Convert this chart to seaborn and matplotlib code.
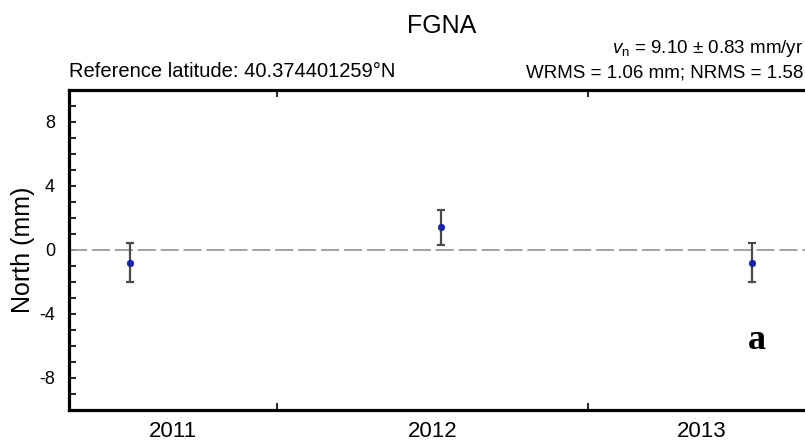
import matplotlib
matplotlib.use("Agg")
import matplotlib.pyplot as plt
import seaborn as sns
import pandas as pd

# GPS north component, one campaign solution per year
station = "FGNA"
epochs = [2011.527, 2012.526, 2013.527]        # decimal year
north_mm = [-0.79, 1.42, -0.79]                # north offset (mm)
sigma_mm = [1.20, 1.10, 1.22]                  # 1-sigma uncertainty (mm)
year_labels = ["2011", "2012", "2013"]
year_bounds = [2012.0, 2013.0]
y_ticks = [-8, -4, 0, 4, 8]

velocity_text = r"$v_{\mathrm{n}}$ = 9.10 ± 0.83 mm/yr"
stats_text = "WRMS = 1.06 mm; NRMS = 1.58"
ref_text = "Reference latitude: 40.374401259°N"
panel_letter = "a"

sns.set_style("white")
plt.rcParams["font.family"] = ["Liberation Sans", "DejaVu Sans"]
plt.rcParams["mathtext.fontset"] = "custom"
plt.rcParams["mathtext.rm"] = "Liberation Sans"
plt.rcParams["mathtext.it"] = "Liberation Sans:italic"
plt.rcParams["lines.scale_dashes"] = False
for key in ["text.color", "axes.labelcolor", "xtick.color", "ytick.color"]:
    plt.rcParams[key] = "black"

W, H = 805, 441
fig = plt.figure(figsize=(W / 100, H / 100), dpi=100)

x0, x1 = 69, 816
y0, y1 = 90, 410
ax = fig.add_axes([x0 / W, 1 - y1 / H, (x1 - x0) / W, (y1 - y0) / H])

xmin, xmax = 2011.331, 2013.733
ax.set_xlim(xmin, xmax)
ax.set_ylim(-10, 10)

df = pd.DataFrame({"epoch": epochs, "north": north_mm, "sigma": sigma_mm})

ax.axhline(0, color="#9a9a9a", lw=1.3, dashes=(13, 3.5), zorder=1)
ax.errorbar(df["epoch"], df["north"], yerr=df["sigma"], fmt="none",
            ecolor="#4a4a4a", elinewidth=1.6, capsize=3, capthick=1.6, zorder=2)
sns.scatterplot(data=df, x="epoch", y="north", ax=ax, color="#1c22a8",
                s=22, edgecolor="#1c22a8", linewidth=0.5, zorder=3, legend=False)

# frame
for side in ["left", "bottom", "top", "right"]:
    ax.spines[side].set_linewidth(2.3)
    ax.spines[side].set_color("black")

# y axis
ax.set_yticks(y_ticks)
ax.set_yticklabels([str(v) for v in y_ticks])
ax.set_yticks(range(-9, 10), minor=True)
ax.tick_params(axis="y", which="both", direction="in", length=5, width=1.2,
               labelsize=13, pad=10, left=True, right=False)
ax.set_ylabel("North (mm)", fontsize=18, labelpad=3)

# x axis: ticks at year boundaries, labels centred on each visible year
ax.set_xticks(year_bounds)
ax.set_xticklabels([])
ax.tick_params(axis="x", which="major", direction="in", length=5, width=1.2,
               top=True, bottom=True)
segments = [xmin] + year_bounds + [xmax]
centers = [(segments[i] + segments[i + 1]) / 2 for i in range(len(year_labels))]
ax.set_xticks(centers, minor=True)
ax.set_xticklabels(year_labels, minor=True)
ax.tick_params(axis="x", which="minor", length=0, labelsize=16, pad=8,
               bottom=True)
ax.set_xlabel("")

# panel letter
ax.text((757 - x0) / (x1 - x0), 1 - (349 - y0) / (y1 - y0), panel_letter,
        transform=ax.transAxes, ha="center", va="baseline",
        fontsize=26, fontweight="bold", family="Liberation Serif")

# header texts
fig.text(442 / W, 1 - 33 / H, station, ha="center", va="baseline", fontsize=18)
fig.text(803 / W, 1 - 53 / H, velocity_text, ha="right", va="baseline", fontsize=13.5)
fig.text(803 / W, 1 - 77 / H, stats_text, ha="right", va="baseline", fontsize=13.5)
fig.text(x0 / W, 1 - 77 / H, ref_text, ha="left", va="baseline", fontsize=14.5)

fig.savefig("out.png", dpi=100)
